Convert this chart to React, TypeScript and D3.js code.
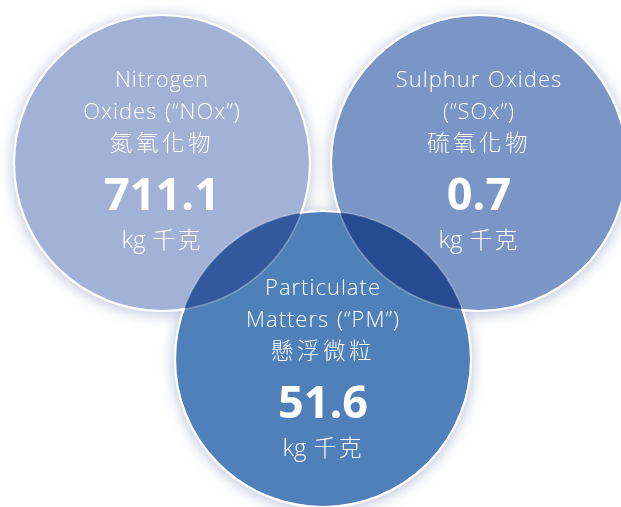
import React from "react";
import * as d3 from "d3";

const englishLabels: string[][] = [
  ["Nitrogen", "Oxides (“NOx”)"],
  ["Sulphur Oxides", "(“SOx”)"],
  ["Particulate", "Matters (“PM”)"],
];
const chineseLabels = ["氮氧化物", "硫氧化物", "懸浮微粒"];
const values = [711.1, 0.7, 51.6];
const units = ["kg 千克", "kg 千克", "kg 千克"];
const keys = ["NOx", "SOx", "PM"];
const fillColors = ["#a2b2d7", "#7a96c6", "#5080b9"];

const W = 621;
const H = 507;

export default function App() {
  const color = d3.scaleOrdinal<string, string>().domain(keys).range(fillColors);
  // layout of the three circles (venn-style positions)
  const cx = d3.scaleOrdinal<string, number>().domain(keys).range([162, 479, 323]);
  const cy = d3.scaleOrdinal<string, number>().domain(keys).range([163, 163, 359]);
  const textShift = d3.scaleOrdinal<string, number>().domain(keys).range([0, 0, 12]);
  const R = 148;
  const fmt = d3.format(".1f");
  const latin = "'Open Sans', 'Noto Sans', sans-serif";
  const cjk = "'Noto Sans CJK TC', 'Noto Sans CJK SC', sans-serif";
  const lineY = [-76, -44];

  return (
    <svg
      width={W}
      height={H}
      viewBox={`0 0 ${W} ${H}`}
      style={{ position: "absolute", left: 0, top: 0, background: "#ffffff" }}
    >
      <defs>
        <filter id="glow" x="-30%" y="-30%" width="160%" height="160%">
          <feGaussianBlur stdDeviation="7" />
        </filter>
        {keys.map((k) => (
          <mask id={`m-${k}`} key={k} maskUnits="userSpaceOnUse" x={0} y={0} width={W} height={H}>
            <rect x={0} y={0} width={W} height={H} fill="#fff" />
            {keys
              .filter((o) => o !== k)
              .map((o) => (
                <circle key={o} cx={cx(o)} cy={cy(o)} r={R - 1} fill="#000" />
              ))}
          </mask>
        ))}
      </defs>
      {/* soft glow */}
      <g filter="url(#glow)">
        {keys.map((k) => (
          <circle key={k} cx={cx(k)} cy={cy(k) + 2} r={R + 2} fill="#8a98bf" opacity={0.55} />
        ))}
      </g>
      <g style={{ isolation: "isolate" }}>
        {keys.map((k) => (
          <circle key={k} cx={cx(k)} cy={cy(k)} r={R} fill="#ffffff" />
        ))}
        {keys.map((k) => (
          <circle
            key={k}
            cx={cx(k)}
            cy={cy(k)}
            r={R}
            fill={color(k)}
            style={{ mixBlendMode: "multiply" }}
          />
        ))}
      </g>
      {/* faint strokes inside overlaps */}
      {keys.map((k) => (
        <circle
          key={k}
          cx={cx(k)}
          cy={cy(k)}
          r={R}
          fill="none"
          stroke="#ffffff"
          strokeOpacity={0.3}
          strokeWidth={1.6}
        />
      ))}
      {/* solid outer strokes */}
      {keys.map((k) => (
        <circle
          key={k}
          cx={cx(k)}
          cy={cy(k)}
          r={R}
          fill="none"
          stroke="#ffffff"
          strokeWidth={2.2}
          mask={`url(#m-${k})`}
        />
      ))}
      {keys.map((k, i) => {
        const x = cx(k);
        const y0 = cy(k) + textShift(k);
        const [u1, u2] = units[i].split(" ");
        return (
          <g key={k} fill="#ffffff" textAnchor="middle">
            {englishLabels[i].map((line, j) => (
              <text
                key={j}
                x={x}
                y={y0 + lineY[j]}
                fontFamily={latin}
                fontWeight={300}
                fontSize={22}
                letterSpacing={1}
                wordSpacing={1}
              >
                {line}
              </text>
            ))}
            <text
              x={x}
              y={y0 - 12}
              fontFamily={cjk}
              fontWeight={300}
              fontSize={22.5}
              letterSpacing={3.5}
            >
              {chineseLabels[i]}
            </text>
            <text x={x} y={y0 + 47} fontFamily={latin} fontWeight={700} fontSize={45}>
              {fmt(values[i])}
            </text>
            <text x={x} y={y0 + 85} fontWeight={300}>
              <tspan fontFamily={latin} fontSize={24}>
                {u1}
              </tspan>
              <tspan fontFamily={cjk} fontSize={23} letterSpacing={2}>
                {" " + u2}
              </tspan>
            </text>
          </g>
        );
      })}
    </svg>
  );
}
